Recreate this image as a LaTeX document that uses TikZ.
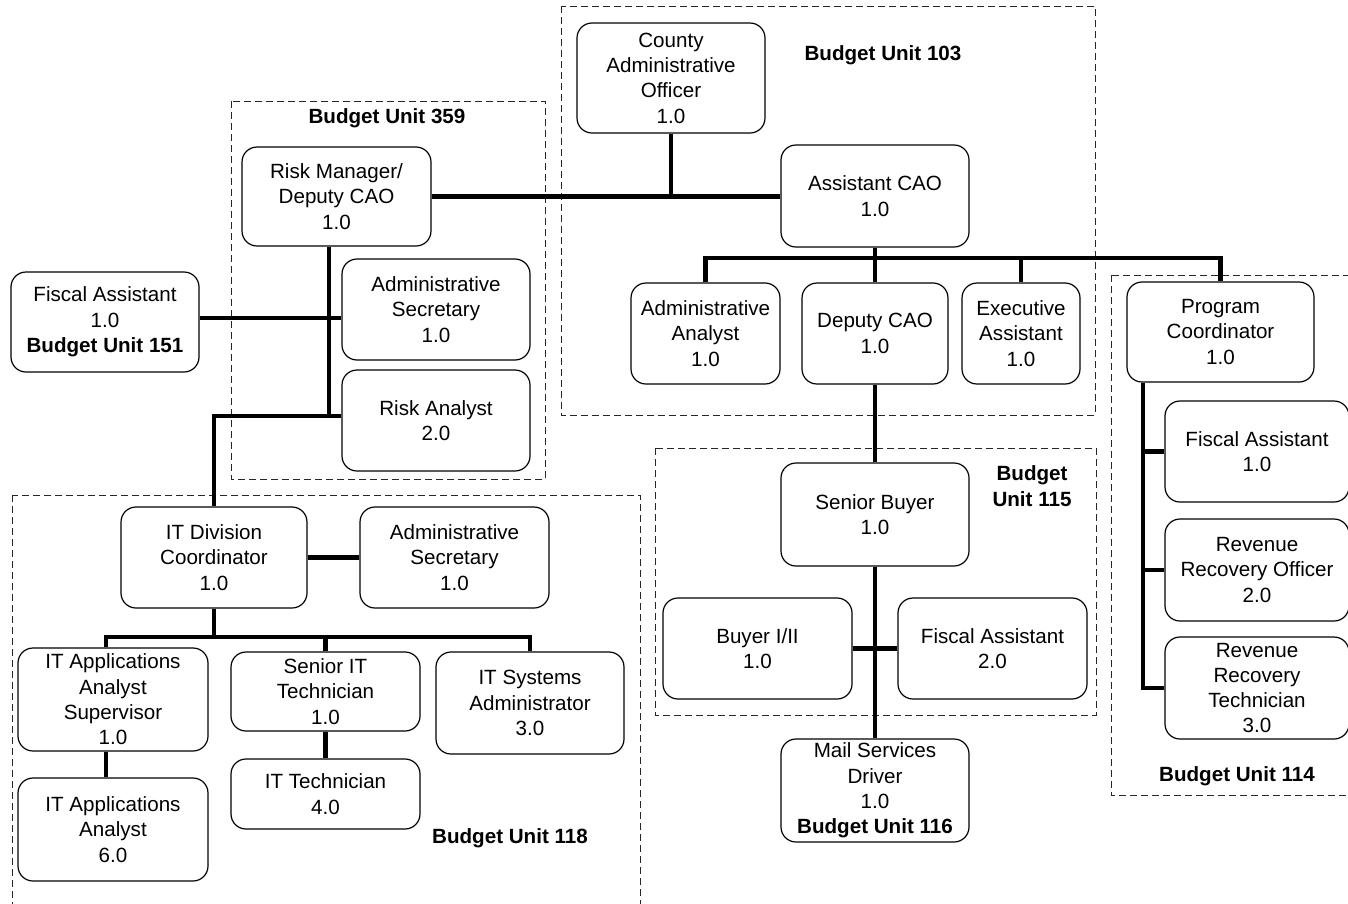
\documentclass[tikz,border=0pt]{standalone}
\usepackage{fontspec}
\setmainfont{Liberation Sans}
\newcommand\orgfont{\fontsize{20.6}{25.3}\selectfont}
\tikzset{
  orgbox/.style={draw, line width=1.2pt, rounded corners=15pt, align=center, inner sep=0pt, font=\orgfont},
  conn/.style={line width=4.2pt},
  unitbox/.style={draw=black!85, line width=1pt, dash pattern=on 7pt off 4pt},
  unitlabel/.style={font=\orgfont\bfseries, align=center, inner sep=0pt}
}
\newcommand\orgnode[6]{\node[orgbox, minimum width={(#4-#2)*1pt}, minimum height={(#5-#3)*1pt}] (#1) at ({(#2+#4)/2},{(#3+#5)/2}) {#6};}
\begin{document}
\begin{tikzpicture}[x=1pt,y=-1pt]
\fill[white] (0,0) rectangle (1348,903);
\useasboundingbox (0,0) rectangle (1348,903);
% budget unit frames
\draw[unitbox] (561,6) rectangle (1095,415);
\draw[unitbox] (231,101) rectangle (545,479);
\draw[unitbox] (12,495) rectangle (640,915);
\draw[unitbox] (655,448) rectangle (1096,715);
\draw[unitbox] (1111,275) rectangle (1365,795);
% labels
\node[unitlabel] (l103) at (883,55) {Budget Unit 103};
\node[unitlabel] (l359) at (387,118) {Budget Unit 359};
\node[unitlabel] (l115) at (1032,486) {Budget\\Unit 115};
\node[unitlabel] (l114) at (1237,776) {Budget Unit 114};
\node[unitlabel] (l118) at (510,838) {Budget Unit 118};
% boxes
\orgnode{cao}{577}{23}{765}{133}{County\\Administrative\\Officer\\1.0}
\orgnode{rm}{242}{147}{431}{246}{Risk Manager/\\Deputy CAO\\1.0}
\orgnode{acao}{781}{145}{969}{247}{Assistant CAO\\1.0}
\orgnode{aa}{631}{283}{780}{384}{Administrative\\Analyst\\1.0}
\orgnode{dcao}{802}{283}{948}{384}{Deputy CAO\\1.0}
\orgnode{ea}{962}{283}{1080}{384}{Executive\\Assistant\\1.0}
\orgnode{pc}{1127}{282}{1314}{382}{Program\\Coordinator\\1.0}
\orgnode{fa114}{1165}{401}{1349}{502}{Fiscal Assistant\\1.0}
\orgnode{rro}{1165}{519}{1349}{621}{Revenue\\Recovery Officer\\2.0}
\orgnode{rrt}{1165}{637}{1349}{739}{Revenue\\Recovery\\Technician\\3.0}
\orgnode{as359}{342}{259}{530}{360}{Administrative\\Secretary\\1.0}
\orgnode{ra}{342}{370}{530}{471}{Risk Analyst\\2.0}
\orgnode{fa151}{11}{272}{199}{372}{Fiscal Assistant\\1.0\\\textbf{Budget Unit 151}}
\orgnode{itdc}{121}{507}{307}{608}{IT Division\\Coordinator\\1.0}
\orgnode{as118}{360}{507}{549}{608}{Administrative\\Secretary\\1.0}
\orgnode{itas}{18}{648}{208}{751}{IT Applications\\Analyst\\Supervisor\\1.0}
\orgnode{itaa}{18}{778}{208}{881}{IT Applications\\Analyst\\6.0}
\orgnode{sit}{231}{652}{420}{731}{Senior IT\\Technician\\1.0}
\orgnode{itt}{231}{759}{420}{829}{IT Technician\\4.0}
\orgnode{itsa}{436}{652}{624}{754}{IT Systems\\Administrator\\3.0}
\orgnode{sb}{781}{463}{969}{566}{Senior Buyer\\1.0}
\orgnode{buy}{663}{598}{852}{699}{Buyer I/II\\1.0}
\orgnode{fa115}{898}{598}{1087}{699}{Fiscal Assistant\\2.0}
\orgnode{msd}{781}{739}{969}{842}{Mail Services\\Driver\\1.0\\\textbf{Budget Unit 116}}
% connectors: top
\draw[conn] (cao.south) -- (cao.south |- rm.east);
\draw[conn] (rm.east) -- (rm.east -| acao.west);
\coordinate (b1) at (875,258);
\draw[conn] (acao.south) -- (dcao.north);
\draw[conn] (aa.north) |- (b1) -| (pc.north);
\draw[conn] (ea.north) -- (ea.north |- b1);
\draw[conn] (dcao.south) -- (sb.north);
\draw[conn] (sb.south) -- (msd.north);
\draw[conn] (buy.east) -- (fa115.west);
% program coordinator
\coordinate (v2) at (1143,382);
\draw[conn] (v2 |- pc.south) -- (v2 |- rrt.west) -- (rrt.west);
\draw[conn] (v2 |- fa114.west) -- (fa114.west);
\draw[conn] (v2 |- rro.west) -- (rro.west);
% risk manager
\coordinate (t1) at (329,318);
\coordinate (t2) at (329,416);
\draw[conn] (t1 |- rm.south) -- (t2);
\draw[conn] (ra.west |- t2) -| (itdc.north);
\draw[conn] (fa151.east |- t1) -- (as359.west |- t1);
% IT division
\draw[conn] (itdc.east) -- (as118.west);
\coordinate (b2) at (106,637);
\draw[conn] (itdc.south) -- (itdc.south |- b2);
\draw[conn] (b2 |- itas.north) -- (b2) -| (itsa.north);
\draw[conn] (sit.north) -- (sit.north |- b2);
\draw[conn] (b2 |- itas.south) -- (b2 |- itaa.north);
\draw[conn] (sit.south) -- (itt.north);
\end{tikzpicture}
\end{document}
